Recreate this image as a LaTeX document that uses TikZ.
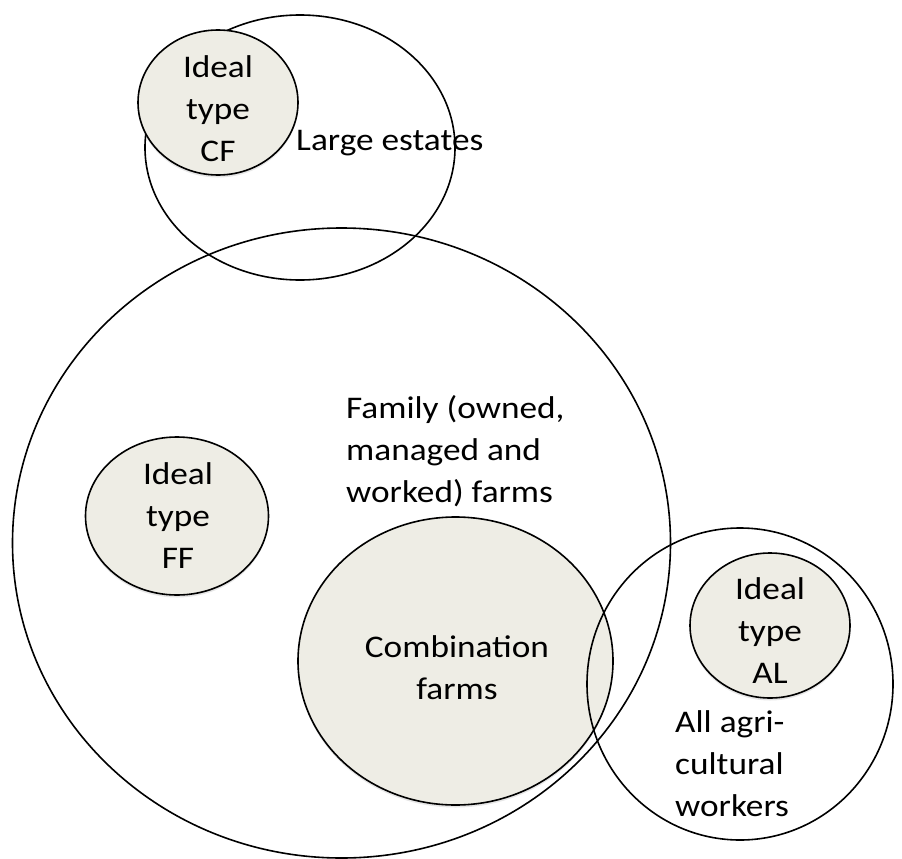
\documentclass[tikz,border=0pt]{standalone}
\usepackage{fontspec}
\setmainfont{Carlito}[FakeStretch=1.12]
\usetikzlibrary{shapes.geometric,shadows}
\definecolor{idealfill}{HTML}{EEEDE5}
\begin{document}
\begin{tikzpicture}[x=1pt,y=-1pt,
  ring/.style={ellipse,draw=black,line width=1.6pt,inner sep=0pt},
  ideal/.style={ring,fill=idealfill,drop shadow={opacity=0.2,shadow xshift=0pt,shadow yshift=-2.5pt}},
  lbl/.style={font=\fontsize{31.5}{42}\selectfont,inner sep=0pt,text=black}]
\path[use as bounding box] (0,0) rectangle (902,859);
% outer sets
\node[ring,minimum width=658pt,minimum height=630pt] (family) at (341.5,543) {};
\node[ring,minimum width=310pt,minimum height=265pt] (estates) at (300,147.5) {};
\node[ideal,minimum width=160pt,minimum height=145pt] (cf) at (218,102.5) {};
\node[ideal,minimum width=183pt,minimum height=158pt] (ff) at (177,516) {};
\node[ideal,minimum width=315pt,minimum height=288pt] (comb) at (455.5,661) {};
\node[ring,minimum width=306pt,minimum height=312pt] (workers) at (740,684) {};
\node[ideal,minimum width=160pt,minimum height=145pt] (al) at (770,625.5) {};
% labels
\node[lbl,align=center] (cft) at (218,109) {Ideal\\type\\CF};
\node[lbl,anchor=base west] (estt) at (296,150) {Large estates};
\node[lbl,align=left,anchor=west] (famt) at (346,451) {Family (owned,\\managed and\\worked) farms};
\node[lbl,align=center] (fft) at (178,516) {Ideal\\type\\FF};
\node[lbl,align=center] (combt) at (457,668) {Combination\\farms};
\node[lbl,align=center] (alt) at (770,631) {Ideal\\type\\AL};
\node[lbl,align=left,anchor=west] (workt) at (675,764) {All agri-\\cultural\\workers};
\end{tikzpicture}
\end{document}
